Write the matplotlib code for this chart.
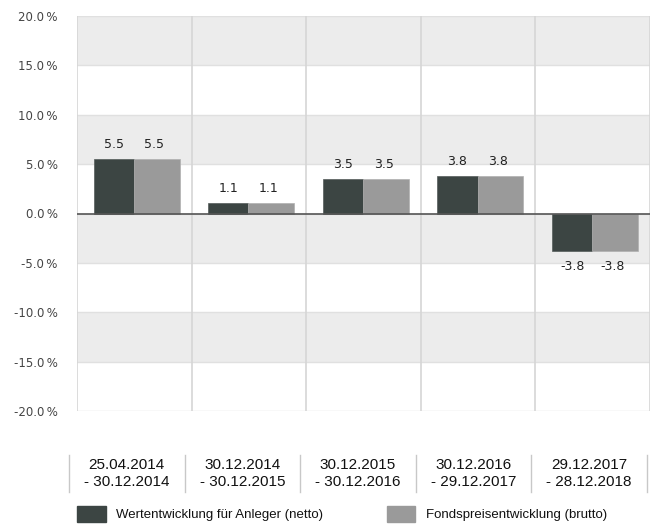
import matplotlib
matplotlib.use("Agg")
import matplotlib.pyplot as plt
from matplotlib.patches import Rectangle
import numpy as np

periods = ["25.04.2014\n- 30.12.2014", "30.12.2014\n- 30.12.2015",
           "30.12.2015\n- 30.12.2016", "30.12.2016\n- 29.12.2017",
           "29.12.2017\n- 28.12.2018"]
netto = [5.5, 1.1, 3.5, 3.8, -3.8]
brutto = [5.5, 1.1, 3.5, 3.8, -3.8]
series_names = ["Wertentwicklung für Anleger (netto)", "Fondspreisentwicklung (brutto)"]
yticks = [20, 15, 10, 5, 0, -5, -10, -15, -20]

DARK = "#3c4543"
LIGHT = "#9a9a9a"
plt.rcParams["font.family"] = ["Liberation Sans", "DejaVu Sans"]

W, H = 654, 527
fig = plt.figure(figsize=(W / 100, H / 100), dpi=100)
ax = fig.add_axes([77 / W, 1 - 411 / H, (650 - 77) / W, (411 - 16) / H])

n = len(periods)
ax.set_xlim(0, n)
ax.set_ylim(-20, 20)

# alternating horizontal bands
for i, top in enumerate(range(20, -20, -5)):
    if i % 2 == 0:
        ax.axhspan(top - 5, top, color="#ececec", zorder=0, lw=0)
for t in yticks:
    ax.axhline(t, color="#e0e0e0", lw=1, zorder=1)
for k in range(0, n + 1):
    ax.axvline(k, color="#d6d6d6", lw=1.2, zorder=1)

x = np.arange(n)
wd = 0.35
wl = 0.40
left_off = 0.145
ax.bar(x + left_off, netto, width=wd, align="edge", color=DARK, zorder=3,
       edgecolor="#555c5a", lw=0.5)
ax.bar(x + left_off + wd, brutto, width=wl, align="edge", color=LIGHT, zorder=3,
       edgecolor="#b0b0b0", lw=0.5)
ax.axhline(0, color="#555555", lw=1.2, zorder=4)

for i in range(n):
    for val, cx in ((netto[i], x[i] + left_off + wd / 2),
                    (brutto[i], x[i] + left_off + wd + wl / 2 - 0.02)):
        off = 1.45 if val >= 0 else -1.6
        ax.text(cx, val + off, f"{val:.1f}", ha="center", va="center",
                fontsize=9, color="#222222", zorder=5, family=["DejaVu Sans"])

ax.set_yticks(yticks)
ax.set_yticklabels([f"{t:.1f}\u2009%" for t in yticks], fontsize=8.5, color="#444444",
                   family=["DejaVu Sans"])
ax.tick_params(axis="y", length=0, pad=14)
ax.set_xticks([])
for s in ax.spines.values():
    s.set_visible(False)

# period labels with separators
sep_x = [69 + k * 115.6 for k in range(n + 1)]
for k in range(n + 1):
    fig.add_artist(plt.Line2D([sep_x[k] / W] * 2, [1 - 455 / H, 1 - 492 / H],
                              color="#c8c8c8", lw=1))
for i, lab in enumerate(periods):
    cx = (sep_x[i] + sep_x[i + 1]) / 2
    fig.text(cx / W, 1 - 473.5 / H, lab, ha="center", va="center", fontsize=11,
             color="#111111", linespacing=1.25)

# legend
fig.add_artist(Rectangle((77 / W, 1 - 522 / H), 29 / W, 16 / H, color=DARK,
                         transform=fig.transFigure))
fig.text(116 / W, 1 - 515 / H, series_names[0], ha="left", va="center",
         fontsize=9.5, color="#111111")
fig.add_artist(Rectangle((387 / W, 1 - 522 / H), 28 / W, 16 / H, color=LIGHT,
                         transform=fig.transFigure))
fig.text(426 / W, 1 - 515 / H, series_names[1], ha="left", va="center",
         fontsize=9.5, color="#111111")

fig.savefig("out.png", dpi=100)
